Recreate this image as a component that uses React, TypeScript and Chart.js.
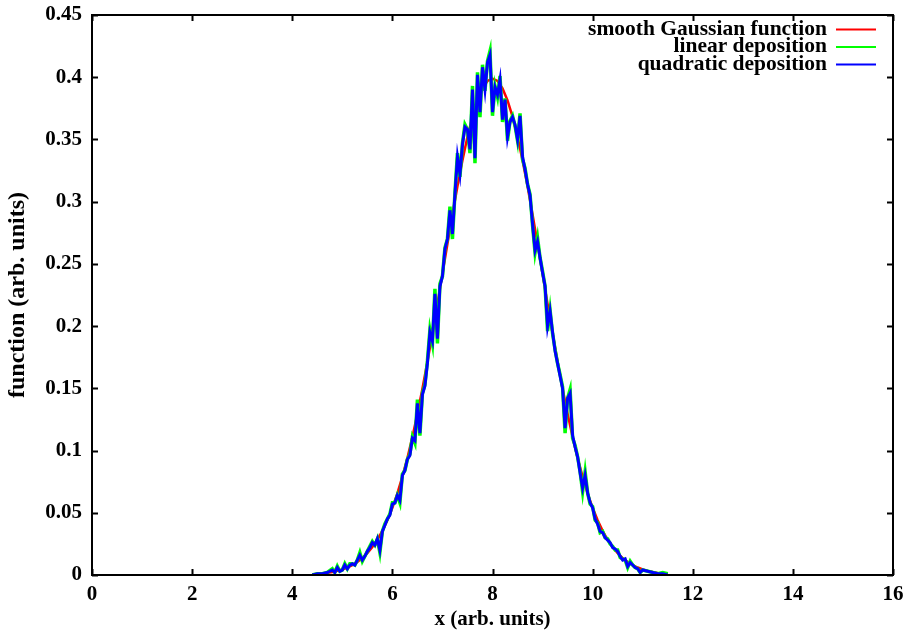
import React, { useEffect, useRef } from "react";
import { Chart, registerables } from "chart.js";

Chart.register(...registerables);

const xTickValues = [0, 2, 4, 6, 8, 10, 12, 14, 16];
const xTickLabels = ["0", "2", "4", "6", "8", "10", "12", "14", "16"];
const yTickValues = [0, 0.05, 0.1, 0.15, 0.2, 0.25, 0.3, 0.35, 0.4, 0.45];
const yTickLabels = ["0", "0.05", "0.1", "0.15", "0.2", "0.25", "0.3", "0.35", "0.4", "0.45"];

const seriesLabels = ["smooth Gaussian function", "linear deposition", "quadratic deposition"];
const seriesColors = ["#ff0000", "#00ff00", "#0000ff"];

const smoothX = [
  4.5, 4.6, 4.7, 4.8, 4.9, 5.0, 5.1, 5.2, 5.3, 5.4, 5.5, 5.6, 5.7, 5.8, 5.9,
  6.0, 6.1, 6.2, 6.3, 6.4, 6.5, 6.6, 6.7, 6.8, 6.9, 7.0, 7.1, 7.2, 7.3, 7.4,
  7.5, 7.6, 7.7, 7.8, 7.9, 8.0, 8.1, 8.2, 8.3, 8.4, 8.5, 8.6, 8.7, 8.8, 8.9,
  9.0, 9.1, 9.2, 9.3, 9.4, 9.5, 9.6, 9.7, 9.8, 9.9, 10.0, 10.1, 10.2, 10.3, 10.4,
  10.5, 10.6, 10.7, 10.8, 10.9, 11.0, 11.1, 11.2, 11.3, 11.4, 11.5,
];
const smoothY = [
  0.0009, 0.0012, 0.0017, 0.0024, 0.0033, 0.0044, 0.006, 0.0079, 0.0104, 0.0136, 0.0175, 0.0224, 0.0283, 0.0355, 0.044,
  0.054, 0.0656, 0.079, 0.094, 0.1109, 0.1295, 0.1497, 0.1714, 0.1942, 0.2179, 0.242, 0.2661, 0.2897, 0.3123, 0.3332,
  0.3521, 0.3683, 0.3814, 0.391, 0.397, 0.3989, 0.397, 0.391, 0.3814, 0.3683, 0.3521, 0.3332, 0.3123, 0.2897, 0.2661,
  0.242, 0.2179, 0.1942, 0.1714, 0.1497, 0.1295, 0.1109, 0.094, 0.079, 0.0656, 0.054, 0.044, 0.0355, 0.0283, 0.0224,
  0.0175, 0.0136, 0.0104, 0.0079, 0.006, 0.0044, 0.0033, 0.0024, 0.0017, 0.0012, 0.0009,
];

const depositionX = [
  4.4, 4.5, 4.6, 4.7,
  4.8, 4.85, 4.9, 4.95, 5.0, 5.05, 5.1, 5.15, 5.2, 5.25, 5.3, 5.35, 5.4, 5.45, 5.5, 5.55,
  5.6, 5.65, 5.7, 5.75, 5.8, 5.85, 5.9, 5.95, 6.0, 6.05, 6.1, 6.15, 6.2, 6.25, 6.3, 6.35,
  6.4, 6.45, 6.5, 6.55, 6.6, 6.65, 6.7, 6.75, 6.8, 6.85, 6.9, 6.95, 7.0, 7.05, 7.1, 7.15,
  7.2, 7.25, 7.3, 7.35, 7.4, 7.45, 7.5, 7.55, 7.6, 7.65, 7.7, 7.75, 7.8, 7.85, 7.9, 7.95,
  8.0, 8.05, 8.1, 8.15, 8.2, 8.25, 8.3, 8.35, 8.4, 8.45, 8.5, 8.55, 8.6, 8.65, 8.7, 8.75,
  8.8, 8.85, 8.9, 8.95, 9.0, 9.05, 9.1, 9.15, 9.2, 9.25, 9.3, 9.35, 9.4, 9.45, 9.5, 9.55,
  9.6, 9.65, 9.7, 9.75, 9.8, 9.85, 9.9, 9.95, 10.0, 10.05, 10.1, 10.15, 10.2, 10.25, 10.3, 10.35,
  10.4, 10.45, 10.5, 10.55, 10.6, 10.65, 10.7, 10.75, 10.8, 10.85, 10.9, 10.95, 11.0,
  11.1, 11.2, 11.3, 11.4, 11.5,
];

const linearY = [
  0.0, 0.001, 0.001, 0.002,
  0.005, 0.002, 0.007, 0.003, 0.004, 0.009, 0.005, 0.009, 0.009, 0.008, 0.012, 0.018, 0.011, 0.015, 0.019, 0.023,
  0.027, 0.024, 0.029, 0.018, 0.035, 0.041, 0.045, 0.049, 0.058, 0.058, 0.064, 0.058, 0.081, 0.084, 0.093, 0.097,
  0.111, 0.106, 0.141, 0.112, 0.146, 0.153, 0.172, 0.197, 0.186, 0.230, 0.186, 0.234, 0.240, 0.263, 0.270, 0.296,
  0.270, 0.307, 0.339, 0.320, 0.347, 0.362, 0.358, 0.339, 0.393, 0.331, 0.404, 0.368, 0.410, 0.389, 0.413, 0.421,
  0.369, 0.393, 0.384, 0.401, 0.364, 0.383, 0.349, 0.365, 0.369, 0.361, 0.349, 0.371, 0.334, 0.327, 0.314, 0.306,
  0.281, 0.259, 0.271, 0.255, 0.244, 0.232, 0.196, 0.213, 0.194, 0.181, 0.170, 0.161, 0.151, 0.114, 0.142, 0.149,
  0.110, 0.104, 0.095, 0.083, 0.067, 0.083, 0.066, 0.057, 0.055, 0.044, 0.042, 0.034, 0.035, 0.030, 0.029, 0.025,
  0.023, 0.020, 0.020, 0.014, 0.013, 0.012, 0.006, 0.011, 0.008, 0.006, 0.005, 0.002, 0.004,
  0.003, 0.002, 0.001, 0.002, 0.001,
];

const quadraticY = [
  0.0, 0.001, 0.001, 0.002,
  0.004, 0.002, 0.006, 0.003, 0.004, 0.008, 0.005, 0.008, 0.009, 0.008, 0.012, 0.016, 0.012, 0.015, 0.019, 0.022,
  0.026, 0.024, 0.029, 0.020, 0.035, 0.040, 0.045, 0.048, 0.057, 0.058, 0.064, 0.060, 0.080, 0.084, 0.093, 0.096,
  0.110, 0.108, 0.138, 0.114, 0.145, 0.152, 0.170, 0.195, 0.188, 0.226, 0.190, 0.232, 0.240, 0.262, 0.270, 0.293,
  0.274, 0.306, 0.336, 0.322, 0.346, 0.360, 0.358, 0.342, 0.390, 0.335, 0.402, 0.372, 0.408, 0.390, 0.412, 0.418,
  0.372, 0.392, 0.386, 0.398, 0.366, 0.382, 0.352, 0.364, 0.368, 0.362, 0.350, 0.369, 0.336, 0.326, 0.314, 0.305,
  0.282, 0.261, 0.268, 0.255, 0.243, 0.232, 0.200, 0.212, 0.195, 0.180, 0.170, 0.160, 0.150, 0.118, 0.142, 0.146,
  0.112, 0.103, 0.095, 0.082, 0.070, 0.080, 0.066, 0.058, 0.054, 0.045, 0.041, 0.035, 0.034, 0.030, 0.028, 0.026,
  0.022, 0.021, 0.019, 0.015, 0.012, 0.013, 0.007, 0.010, 0.008, 0.006, 0.005, 0.002, 0.004,
  0.003, 0.002, 0.001, 0.001, 0.0,
];

const FONT_FAMILY = "'Liberation Serif', 'DejaVu Serif', serif";

const framePlugin = {
  id: "gnuFrame",
  afterDatasetsDraw(chart: any) {
    const { ctx, chartArea: a, scales } = chart;
    ctx.save();
    ctx.strokeStyle = "#000";
    ctx.lineWidth = 2;
    ctx.strokeRect(a.left, a.top, a.right - a.left, a.bottom - a.top);
    const len = 6;
    ctx.beginPath();
    xTickValues.forEach((v) => {
      const px = Math.round(scales.x.getPixelForValue(v)) + 0.5;
      ctx.moveTo(px, a.bottom);
      ctx.lineTo(px, a.bottom - len);
      ctx.moveTo(px, a.top);
      ctx.lineTo(px, a.top + len);
    });
    yTickValues.forEach((v) => {
      const py = Math.round(scales.y.getPixelForValue(v)) + 0.5;
      ctx.moveTo(a.left, py);
      ctx.lineTo(a.left + len, py);
      ctx.moveTo(a.right, py);
      ctx.lineTo(a.right - len, py);
    });
    ctx.stroke();
    ctx.restore();
  },
};

const legendPlugin = {
  id: "gnuLegend",
  afterDraw(chart: any) {
    const { ctx, chartArea: a } = chart;
    ctx.save();
    ctx.font = `bold 21.5px ${FONT_FAMILY}`;
    ctx.textAlign = "right";
    ctx.textBaseline = "middle";
    seriesLabels.forEach((label, i) => {
      const y = a.top + 14 + i * 17.5;
      ctx.fillStyle = "#000";
      ctx.fillText(label, a.right - 66, y);
      ctx.strokeStyle = seriesColors[i];
      ctx.lineWidth = 2;
      ctx.beginPath();
      ctx.moveTo(a.right - 57, y + 0.5);
      ctx.lineTo(a.right - 17, y + 0.5);
      ctx.stroke();
    });
    ctx.restore();
  },
};

const toPoints = (xs: number[], ys: number[]) => xs.map((x, i) => ({ x, y: ys[i] }));

export default function App() {
  const ref = useRef<HTMLCanvasElement>(null);

  useEffect(() => {
    if (!ref.current) return;
    const tickFont = { family: FONT_FAMILY, size: 21, weight: "bold" as const };
    const chart = new Chart(ref.current, {
      type: "line",
      data: {
        datasets: [
          {
            label: seriesLabels[0],
            data: toPoints(smoothX, smoothY),
            borderColor: seriesColors[0],
            borderWidth: 2.5,
            pointRadius: 0,
            tension: 0,
            fill: false,
            order: 2,
          },
          {
            label: seriesLabels[1],
            data: toPoints(depositionX, linearY),
            borderColor: seriesColors[1],
            borderWidth: 3.5,
            pointRadius: 0,
            tension: 0,
            fill: false,
            order: 1,
          },
          {
            label: seriesLabels[2],
            data: toPoints(depositionX, quadraticY),
            borderColor: seriesColors[2],
            borderWidth: 3,
            pointRadius: 0,
            tension: 0,
            fill: false,
            order: 0,
          },
        ],
      },
      options: {
        animation: false,
        responsive: false,
        devicePixelRatio: 1,
        layout: { padding: { top: 15, right: 13, left: 0, bottom: 0 } },
        plugins: {
          legend: { display: false },
          tooltip: { enabled: false },
        },
        scales: {
          x: {
            type: "linear",
            min: 0,
            max: 16,
            grid: { display: false, drawTicks: false },
            border: { display: false },
            afterBuildTicks: (s: any) => {
              s.ticks = xTickValues.map((v) => ({ value: v }));
            },
            afterFit: (s: any) => {
              s.height = 55;
              s.paddingLeft = 0;
              s.paddingRight = 0;
            },
            ticks: {
              autoSkip: false,
              maxRotation: 0,
              color: "#000",
              font: tickFont,
              padding: 7,
              callback: (_v: any, i: number) => xTickLabels[i],
            },
            title: {
              display: true,
              text: "x (arb. units)",
              color: "#000",
              font: { family: FONT_FAMILY, size: 21, weight: "bold", lineHeight: 1 },
              padding: { top: 0, bottom: 0 },
            },
          },
          y: {
            type: "linear",
            min: 0,
            max: 0.45,
            grid: { display: false, drawTicks: false },
            border: { display: false },
            afterBuildTicks: (s: any) => {
              s.ticks = yTickValues.map((v) => ({ value: v }));
            },
            afterFit: (s: any) => {
              s.width = 92;
              s.paddingTop = 0;
              s.paddingBottom = 0;
            },
            ticks: {
              autoSkip: false,
              color: "#000",
              font: tickFont,
              padding: 10,
              callback: (_v: any, i: number) => yTickLabels[i],
            },
            title: {
              display: true,
              text: "function (arb. units)",
              color: "#000",
              font: { family: FONT_FAMILY, size: 24, weight: "bold", lineHeight: 1 },
              padding: { top: 6, bottom: 0 },
            },
          },
        },
      },
      plugins: [framePlugin, legendPlugin],
    });
    return () => chart.destroy();
  }, []);

  return (
    <div
      style={{
        position: "fixed",
        left: 0,
        top: 0,
        width: 906,
        height: 630,
        background: "#fff",
      }}
    >
      <canvas ref={ref} width={906} height={630} style={{ display: "block", width: 906, height: 630 }} />
    </div>
  );
}
